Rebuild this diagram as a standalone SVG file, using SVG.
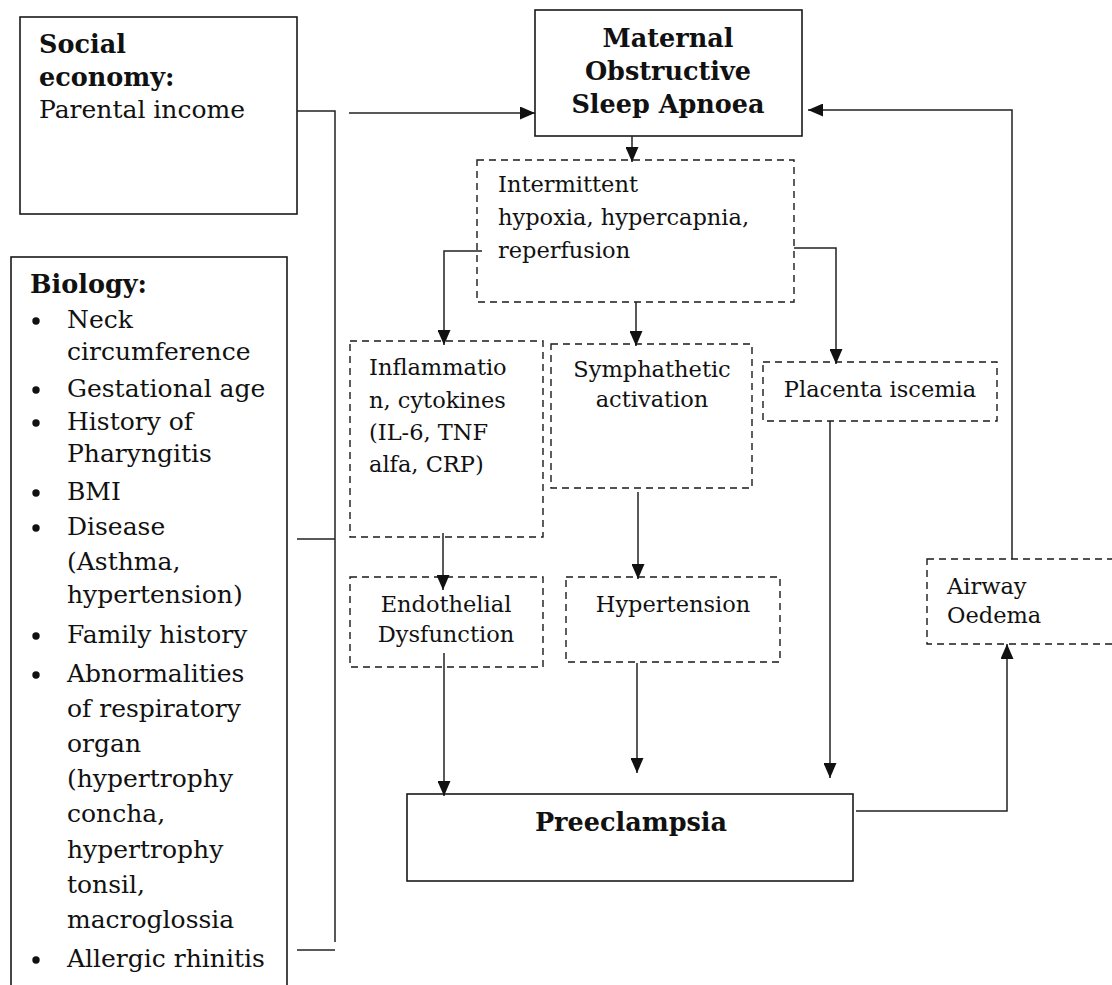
<svg xmlns="http://www.w3.org/2000/svg" width="1112" height="985" viewBox="0 0 1112 985">
<style>
.solid{fill:#fff;stroke:#1a1a1a;stroke-width:1.6}
.dash{fill:#fff;stroke:#1a1a1a;stroke-width:1.4;stroke-dasharray:7 5}
.t{font-family:"DejaVu Serif","Liberation Serif",serif;font-size:25px;fill:#111}
.s{font-family:"DejaVu Serif","Liberation Serif",serif;font-size:22.5px;fill:#111}
.b{font-weight:bold;font-size:25.5px}
.c{text-anchor:middle}
.ln{fill:none;stroke:#222;stroke-width:1.5}
.bul{fill:#111}
</style>
<defs>
<marker id="ah" markerUnits="userSpaceOnUse" markerWidth="15" markerHeight="13" refX="15" refY="6.5" orient="auto">
<path d="M0,0 L15,6.5 L0,13 z" fill="#111"/>
</marker>
</defs>
<rect width="1112" height="985" fill="#fff"/>

<g id="social">
<rect class="solid" x="20" y="17" width="277" height="197"/>
<text class="t b" x="39" y="53">Social</text>
<text class="t b" x="39" y="86">economy:</text>
<text class="t" x="39" y="118">Parental income</text>
</g>

<g id="biology">
<rect class="solid" x="11" y="257" width="276" height="760"/>
<text class="t b" x="30" y="293">Biology:</text>
<circle class="bul" cx="36" cy="321" r="3.7"/>
<text class="t" x="67" y="328">Neck</text>
<text class="t" x="67" y="360">circumference</text>
<circle class="bul" cx="36" cy="390" r="3.7"/>
<text class="t" x="67" y="397">Gestational age</text>
<circle class="bul" cx="36" cy="423" r="3.7"/>
<text class="t" x="67" y="430">History of</text>
<text class="t" x="67" y="462">Pharyngitis</text>
<circle class="bul" cx="36" cy="493" r="3.7"/>
<text class="t" x="67" y="500">BMI</text>
<circle class="bul" cx="36" cy="528" r="3.7"/>
<text class="t" x="67" y="535">Disease</text>
<text class="t" x="67" y="570">(Asthma,</text>
<text class="t" x="67" y="603">hypertension)</text>
<circle class="bul" cx="36" cy="636" r="3.7"/>
<text class="t" x="67" y="643">Family history</text>
<circle class="bul" cx="36" cy="675" r="3.7"/>
<text class="t" x="67" y="682">Abnormalities</text>
<text class="t" x="67" y="717">of respiratory</text>
<text class="t" x="67" y="752">organ</text>
<text class="t" x="67" y="787">(hypertrophy</text>
<text class="t" x="67" y="822">concha,</text>
<text class="t" x="67" y="858">hypertrophy</text>
<text class="t" x="67" y="893">tonsil,</text>
<text class="t" x="67" y="928">macroglossia</text>
<circle class="bul" cx="36" cy="960" r="3.7"/>
<text class="t" x="67" y="967">Allergic rhinitis</text>
</g>

<g id="maternal">
<rect class="solid" x="535" y="10" width="267" height="126"/>
<text class="t b c" x="668" y="47">Maternal</text>
<text class="t b c" x="668" y="80">Obstructive</text>
<text class="t b c" x="668" y="113">Sleep Apnoea</text>
</g>

<g id="intermittent">
<rect class="dash" x="477" y="160" width="317" height="142"/>
<text class="s" x="498" y="192">Intermittent</text>
<text class="s" x="498" y="225">hypoxia, hypercapnia,</text>
<text class="s" x="498" y="258">reperfusion</text>
</g>

<g id="inflammation">
<rect class="dash" x="350" y="341" width="193" height="196"/>
<text class="s" x="369" y="375">Inflammatio</text>
<text class="s" x="369" y="408">n, cytokines</text>
<text class="s" x="369" y="440">(IL-6, TNF</text>
<text class="s" x="369" y="472">alfa, CRP)</text>
</g>

<g id="sympathetic">
<rect class="dash" x="551" y="344" width="201" height="144"/>
<text class="s c" x="652" y="377">Symphathetic</text>
<text class="s c" x="652" y="407">activation</text>
</g>

<g id="placenta">
<rect class="dash" x="763" y="362" width="234" height="59"/>
<text class="s c" x="880" y="397">Placenta iscemia</text>
</g>

<g id="endothelial">
<rect class="dash" x="350" y="577" width="193" height="90"/>
<text class="s c" x="446" y="612">Endothelial</text>
<text class="s c" x="446" y="642">Dysfunction</text>
</g>

<g id="hypertension">
<rect class="dash" x="566" y="577" width="214" height="85"/>
<text class="s c" x="673" y="612">Hypertension</text>
</g>

<g id="airway">
<rect class="dash" x="927" y="559" width="200" height="85"/>
<text class="s" x="947" y="594">Airway</text>
<text class="s" x="947" y="623">Oedema</text>
</g>

<g id="preeclampsia">
<rect class="solid" x="407" y="794" width="446" height="87"/>
<text class="t b c" x="631" y="831">Preeclampsia</text>
</g>

<g id="connectors">
<polyline class="ln" points="297,111 335,111 335,942"/>
<line class="ln" x1="297" y1="539" x2="335" y2="539"/>
<line class="ln" x1="297" y1="950" x2="335" y2="950"/>
<line class="ln" x1="349" y1="113" x2="535" y2="113" marker-end="url(#ah)"/>
<line class="ln" x1="632" y1="136" x2="632" y2="162" marker-end="url(#ah)"/>
<polyline class="ln" points="482,251 444,251 444,345" marker-end="url(#ah)"/>
<line class="ln" x1="636" y1="302" x2="636" y2="346" marker-end="url(#ah)"/>
<polyline class="ln" points="794,248 836,248 836,364" marker-end="url(#ah)"/>
<line class="ln" x1="443" y1="533" x2="443" y2="590" marker-end="url(#ah)"/>
<line class="ln" x1="638" y1="492" x2="638" y2="579" marker-end="url(#ah)"/>
<line class="ln" x1="444" y1="653" x2="444" y2="796" marker-end="url(#ah)"/>
<line class="ln" x1="637" y1="663" x2="637" y2="773" marker-end="url(#ah)"/>
<line class="ln" x1="830" y1="421" x2="830" y2="778" marker-end="url(#ah)"/>
<polyline class="ln" points="856,811 1007,811 1007,644" marker-end="url(#ah)"/>
<polyline class="ln" points="1012,559 1012,110 808,110" marker-end="url(#ah)"/>
</g>
</svg>
